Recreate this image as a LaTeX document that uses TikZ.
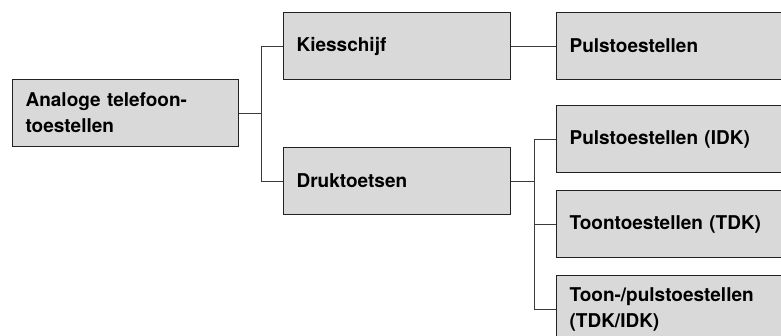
\documentclass[tikz,border=0pt]{standalone}
\usepackage{fontspec}
\setmainfont{TeX Gyre Heros}
\definecolor{boxfill}{HTML}{D9D9D9}
\definecolor{boxline}{HTML}{222222}
\definecolor{wirecol}{HTML}{3A3A3A}
\tikzset{
  box/.style={draw=boxline, fill=boxfill, line width=1.2pt, anchor=north west,
    align=left, inner xsep=13pt, inner ysep=0pt, minimum height=67pt,
    font=\fontsize{19}{26}\selectfont\bfseries},
  wire/.style={draw=wirecol, line width=1.2pt},
}

\begin{document}
\begin{tikzpicture}[x=1pt, y=-1pt]

\useasboundingbox (0,0) rectangle (781,335);
\clip (0,0) rectangle (781,335);

% level 1
\node[box, text width=200pt] (ana) at (12,79) {Analoge telefoon-\\toestellen};

% level 2
\node[box, text width=201pt] (kies) at (283,12) {Kiesschijf};
\node[box, text width=201pt] (druk) at (283,147) {Druktoetsen};

% level 3 (runs off the right edge)
\node[box, text width=218pt] (puls) at (556,12) {Pulstoestellen};
\node[box, text width=218pt] (idk) at (556,105) {Pulstoestellen (IDK)};
\node[box, text width=218pt] (tdk) at (556,190) {Toontoestellen (TDK)};
\node[box, text width=218pt] (tdkidk) at (556,275) {Toon-/pulstoestellen\\(TDK/IDK)};

\coordinate (forkA) at ([xshift=22pt]ana.east);
\coordinate (forkB) at ([xshift=23pt]druk.east);

\draw[wire] (ana.east) -- (forkA);
\draw[wire] (kies.west) -| (forkA) |- (druk.west);
\draw[wire] (kies.east) -- (puls.west);
\draw[wire] (druk.east) -- (forkB);
\draw[wire] (idk.west) -| (forkB) |- (tdkidk.west);
\draw[wire] (forkB) |- (tdk.west);

\end{tikzpicture}
\end{document}
